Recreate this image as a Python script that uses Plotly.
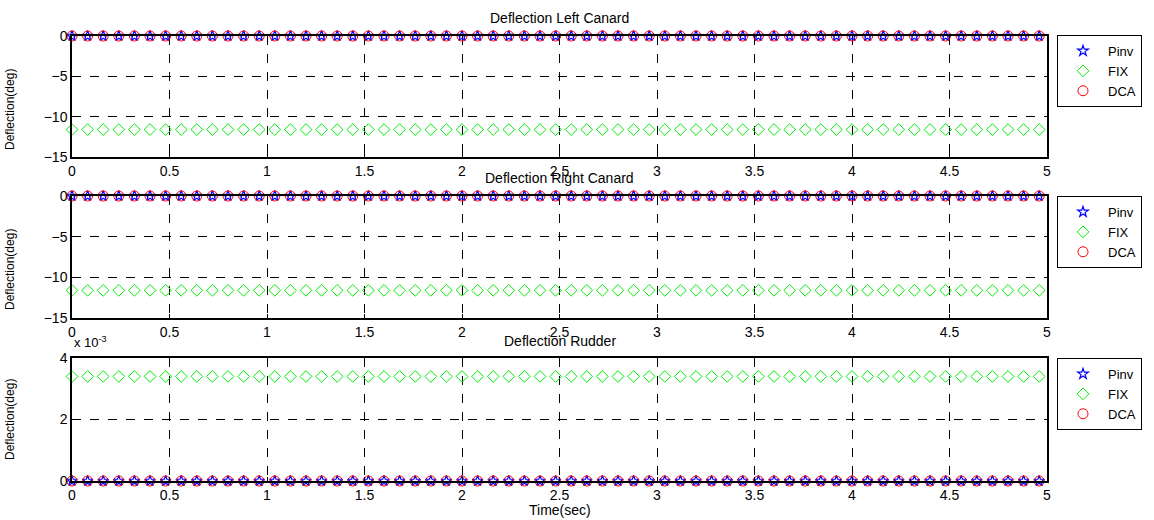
import plotly.graph_objects as go

# time samples (sec)
time = [round(i * 0.08, 2) for i in range(63)]

# Left canard deflection (deg)
left_pinv = [0.0] * 63
left_fix = [-11.6] * 63
left_dca = [0.0] * 63

# Right canard deflection (deg)
right_pinv = [0.0] * 63
right_fix = [-11.6] * 63
right_dca = [0.0] * 63

# Rudder deflection (deg)
rud_pinv = [0.0] * 63
rud_fix = [0.0034] * 63
rud_dca = [0.0] * 63

titles = ["Deflection Left Canard", "Deflection Right Canard", "Deflection Rudder"]
x_ticks = [0, 0.5, 1, 1.5, 2, 2.5, 3, 3.5, 4, 4.5, 5]
x_tick_text = ["0", "0.5", "1", "1.5", "2", "2.5", "3", "3.5", "4", "4.5", "5"]
canard_ticks = [0, -5, -10, -15]
rudder_ticks = [0, 0.002, 0.004]
rudder_tick_text = ["0", "2", "4"]

FONT = "Liberation Sans, Arial, Helvetica, sans-serif"
W, H = 1154, 520
ML, MR, MT, MB = 72, 107, 36, 39
ph = H - MT - MB

def py(pix):
    return (H - MB - pix) / ph

domains = [[py(157), 1.0], [py(318), py(196)], [0.0, py(358)]]

fig = go.Figure()
series = [
    (left_pinv, left_fix, left_dca),
    (right_pinv, right_fix, right_dca),
    (rud_pinv, rud_fix, rud_dca),
]
legend_names = ["legend", "legend2", "legend3"]
for i, (p, f, d) in enumerate(series):
    xa = "x" if i == 0 else f"x{i+1}"
    ya = "y" if i == 0 else f"y{i+1}"
    common = dict(x=time, xaxis=xa, yaxis=ya, mode="markers", legend=legend_names[i], cliponaxis=False)
    fig.add_trace(go.Scatter(y=p, name="Pinv",
                             marker=dict(symbol="star-open", size=8, color="blue", line=dict(width=1.2, color="blue")),
                             **common))
    fig.add_trace(go.Scatter(y=f, name="FIX",
                             marker=dict(symbol="diamond-open", size=9, color="#00ee00", line=dict(width=1, color="#00ee00")),
                             **common))
    fig.add_trace(go.Scatter(y=d, name="DCA",
                             marker=dict(symbol="circle-open", size=10, color="red", line=dict(width=1, color="red")),
                             **common))

axis_common = dict(showline=True, linecolor="black", linewidth=1.5, mirror=True,
                   showgrid=True, gridcolor="black", griddash="dash", gridwidth=1,
                   zeroline=False, ticks="inside", ticklen=4, tickcolor="black",
                   tickfont=dict(family=FONT, size=14, color="black"))

layout = dict(
    width=W, height=H, margin=dict(l=ML, r=MR, t=MT, b=MB),
    plot_bgcolor="white", paper_bgcolor="white", showlegend=True,
    font=dict(family=FONT, size=13, color="black"),
)
for i in range(3):
    xk = "xaxis" if i == 0 else f"xaxis{i+1}"
    yk = "yaxis" if i == 0 else f"yaxis{i+1}"
    ya = "y" if i == 0 else f"y{i+1}"
    xa = "x" if i == 0 else f"x{i+1}"
    layout[xk] = dict(domain=[0, 1], anchor=ya, range=[0, 5], tickvals=x_ticks, ticktext=x_tick_text, **axis_common)
    if i < 2:
        layout[yk] = dict(domain=domains[i], anchor=xa, range=[-15, 0], tickvals=canard_ticks, **axis_common)
    else:
        layout[yk] = dict(domain=domains[i], anchor=xa, range=[0, 0.004], tickvals=rudder_ticks,
                          ticktext=rudder_tick_text, **axis_common)

legend_common = dict(bgcolor="white", bordercolor="black", borderwidth=1,
                     font=dict(family=FONT, size=13, color="black"),
                     xanchor="left", yanchor="top", x=(1057 - ML) / (W - ML - MR),
                     tracegroupgap=0, itemwidth=40)
layout["legend"] = dict(y=py(35), **legend_common)
layout["legend2"] = dict(y=py(196), **legend_common)
layout["legend3"] = dict(y=py(358), **legend_common)

fig.update_layout(**layout)

title_y = [18, 178, 341]
mid_x = 0.5
anns = []
for t, yy in zip(titles, title_y):
    anns.append(dict(text=t, x=mid_x, y=py(yy), xref="paper", yref="paper", showarrow=False,
                     font=dict(family=FONT, size=14, color="black"), xanchor="center", yanchor="middle"))
anns.append(dict(text="Time(sec)", x=mid_x, y=py(510), xref="paper", yref="paper", showarrow=False,
                 font=dict(family=FONT, size=14, color="black"), xanchor="center", yanchor="middle"))
anns.append(dict(text="x 10<sup>-3</sup>", x=0, y=py(342), xref="paper", yref="paper", showarrow=False,
                 font=dict(family=FONT, size=13, color="black"), xanchor="left", yanchor="middle"))
for yc in [110, 270, 420]:
    anns.append(dict(text="Deflection(deg)", x=(10 - ML) / (W - ML - MR), y=py(yc), xref="paper", yref="paper",
                     showarrow=False, textangle=-90, font=dict(family=FONT, size=12, color="black"),
                     xanchor="center", yanchor="middle"))
fig.update_layout(annotations=anns)

fig.write_html("out.html")
